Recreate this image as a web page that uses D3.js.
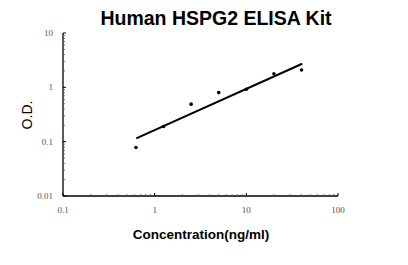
<!DOCTYPE html>
<html>
<head>
<meta charset="utf-8">
<script src="https://cdn.jsdelivr.net/npm/d3@7"></script>
<style>
  body { margin: 0; background: #fff; }
  svg { display: block; }
</style>
</head>
<body>
<svg id="chart" width="408" height="265"></svg>
<script>

// standard curve points
var conc = [0.625, 1.25, 2.5, 5, 10, 20, 40];
var od = [0.078, 0.19, 0.49, 0.80, 0.92, 1.78, 2.08];

// fitted line end points
var fitConc = [0.63, 40.7];
var fitOd = [0.115, 2.72];

var xTicks = [0.1, 1, 10, 100];
var yTicks = [0.01, 0.1, 1, 10];
var xTickLabels = ['0.1', '1', '10', '100'];
var yTickLabels = ['0.01', '0.1', '1', '10'];

var svg = d3.select('#chart');

var x = d3.scaleLog().domain([0.1, 100]).range([63, 338]);
var y = d3.scaleLog().domain([0.01, 10]).range([196, 33]);

// minor ticks for every decade
var minor = function(dom)
{
  var out = [];
  for (var d = dom[0]; d < dom[1]; d *= 10)
    for (var k = 2; k <= 9; k++) out.push(d * k);
  return out;
};

var xAxis = svg.append('g')
  .attr('transform', 'translate(0,196)');
xAxis.append('line')
  .attr('x1', x(0.1)).attr('x2', x(100))
  .attr('stroke', 'black').attr('stroke-width', 1.3);
xAxis.selectAll('.minor')
  .data(minor([0.1, 100]))
  .enter().append('line')
  .attr('x1', d => x(d)).attr('x2', d => x(d))
  .attr('y1', 0).attr('y2', -2)
  .attr('stroke', '#555').attr('stroke-width', 0.8);
xAxis.selectAll('.major')
  .data(xTicks)
  .enter().append('line')
  .attr('x1', d => x(d)).attr('x2', d => x(d))
  .attr('y1', 0).attr('y2', -3)
  .attr('stroke', 'black').attr('stroke-width', 1);
xAxis.selectAll('text')
  .data(xTicks)
  .enter().append('text')
  .attr('x', d => x(d))
  .attr('y', 17)
  .attr('text-anchor', 'middle')
  .attr('font-family', 'Liberation Serif, serif')
  .attr('font-size', 9)
  .attr('fill', '#555')
  .text((d, i) => xTickLabels[i]);

var yAxis = svg.append('g')
  .attr('transform', 'translate(63,0)');
yAxis.append('line')
  .attr('y1', y(0.01)).attr('y2', y(10))
  .attr('stroke', 'black').attr('stroke-width', 1.3);
yAxis.selectAll('.minor')
  .data(minor([0.01, 10]))
  .enter().append('line')
  .attr('y1', d => y(d)).attr('y2', d => y(d))
  .attr('x1', 0).attr('x2', 2)
  .attr('stroke', '#555').attr('stroke-width', 0.8);
yAxis.selectAll('.major')
  .data(yTicks)
  .enter().append('line')
  .attr('y1', d => y(d)).attr('y2', d => y(d))
  .attr('x1', 0).attr('x2', 3)
  .attr('stroke', 'black').attr('stroke-width', 1);
yAxis.selectAll('text')
  .data(yTicks)
  .enter().append('text')
  .attr('x', -10)
  .attr('y', d => y(d) + 3)
  .attr('text-anchor', 'end')
  .attr('font-family', 'Liberation Serif, serif')
  .attr('font-size', 9)
  .attr('fill', '#555')
  .text((d, i) => yTickLabels[i]);

// fitted line
var line = d3.line()
  .x(d => x(d[0]))
  .y(d => y(d[1]));

svg.append('path')
  .datum(fitConc.map((c, i) => [c, fitOd[i]]))
  .attr('d', line)
  .attr('fill', 'none')
  .attr('stroke', 'black')
  .attr('stroke-width', 2);

svg.append('g')
  .selectAll('circle')
  .data(conc.map((c, i) => [c, od[i]]))
  .enter().append('circle')
  .attr('cx', d => x(d[0]))
  .attr('cy', d => y(d[1]))
  .attr('r', 1.8)
  .attr('fill', 'black');

svg.append('text')
  .attr('x', 216).attr('y', 25)
  .attr('text-anchor', 'middle')
  .attr('font-family', 'Liberation Sans, Arial, sans-serif')
  .attr('font-weight', 'bold')
  .attr('font-size', 19.5)
  .text('Human HSPG2 ELISA Kit');

svg.append('text')
  .attr('x', 201).attr('y', 239)
  .attr('text-anchor', 'middle')
  .attr('font-family', 'Liberation Sans, Arial, sans-serif')
  .attr('font-weight', 'bold')
  .attr('font-size', 13.5)
  .text('Concentration(ng/ml)');

svg.append('text')
  .attr('transform', 'translate(32,115) rotate(-90)')
  .attr('text-anchor', 'middle')
  .attr('font-family', 'Liberation Sans, Arial, sans-serif')
  .attr('font-size', 14)
  .text('O.D.');

</script>
</body>
</html>
